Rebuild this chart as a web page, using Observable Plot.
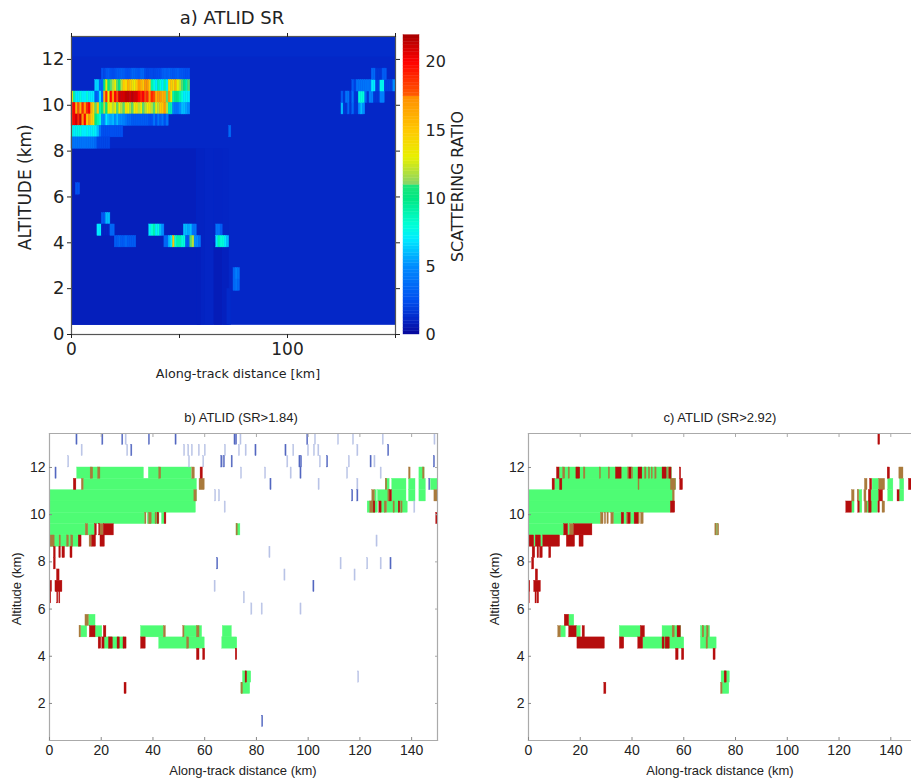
<!DOCTYPE html>
<html>
<head>
<meta charset="utf-8">
<script src="https://cdn.jsdelivr.net/npm/d3@7"></script>
<script src="https://cdn.jsdelivr.net/npm/@observablehq/plot@0.6"></script>
<style>
html,body{margin:0;padding:0;background:#fff;width:911px;height:780px;overflow:hidden}
#page{position:relative;width:911px;height:780px;overflow:hidden}
#page svg{position:absolute;display:block;background:transparent;overflow:hidden}
.ttl{position:absolute;text-align:center;color:#222;white-space:nowrap}
</style>
</head>
<body>
<div id="page"></div>
<script>
// ---------- shared ticks ----------
const kmTicksA = [0, 50, 100, 150];
const kmLabelsA = [0, 100];
const altTicksA = [0, 2, 4, 6, 8, 10, 12];
const srTicks = [0, 5, 10, 15, 20];
const kmTicks = [0, 20, 40, 60, 80, 100, 120, 140];
const altTicks = [2, 4, 6, 8, 10, 12];

// ---------- colour bar ----------
const srStops  = [0, 1, 2.5, 5, 7, 8, 10, 10.95, 11.05, 13, 15, 17.4, 17.6, 20, 22];
const srColors = ["#07079a", "#0424c4", "#0050f0", "#008cff", "#00ecff", "#00ffd8", "#00e882", "#1ee67a",
                  "#88d468", "#e8f000", "#ffc800", "#ff9000", "#ff5a00", "#ff0000", "#a80000"];
const srBarValues = d3.range(0, 22, 0.25);

// ---------- panel a: scattering ratio background regions [km1, km2, alt1, alt2, SR] ----------
const srBackground = [
  [0, 150, 0.4, 13, 1.1], [0, 150, 12.1, 13, 1.25],
  [0, 58, 0.4, 8.1, 0.82], [58, 62, 0.4, 8.1, 0.95], [62, 66, 0.4, 8.1, 1.05],
  [66, 70, 0.4, 4, 0.72], [66, 70, 4, 8.1, 1], [70, 73, 0.4, 4, 0.85], [70, 73, 4, 8.1, 1.05],
  [58, 60, 0.4, 3.8, 0.82], [72, 74, 0.4, 2, 1.2]
];
// ---------- panel a: cloud rows [base altitude, first km, SR per 1-km column] ----------
const srRow111 = [11.1, 14, [2.6,2.2,2.8,3,2.5,2.4,2.6,3,3,3.2,3,2.6,2.5,2.7,3.4,3.3,3,2.8,3.4,3.4,2.4,2.2,2.3,2.3,2.2,2.3,2.4,2.4,3,3.2,3,3.3,3,2.8,3,3.2,2.8,2.8,2.6,2.5,2.6]];
const srRow106 = [10.6, 11, [6.5,6.5,3.5,3.5,10,13,10,11,12,13,11,10,12,15,14,16,15,14,13,15,17,16,15,17,17,15,9,8,7,9,8,7,9,7,14,15,14,16,13,12,11,10,9,11]];
const srRow101 = [10.1, 0, [13,9,7,7,8,7,7,8,7,7,7,3,3.5,7,3.5,16,19,13,20,17,20,18,21,21,21,21.5,21.5,21,21.5,21,21,20,19,20,18,19,17,19,18,16,17,17,16,16.5,11,17,13,9,10,10,9,8,7,7.5,7]];
const srRow96  = [9.6, 0, [19,20,16,18,16,19,17,19,20,16,14,11,15,9,10,12,10,13,13,12,13,11,13,12,11,14,13,12,11,13,14,12,13,11,12,13,14,12,11,13,12,15,15,17,12,9,9,4.5,4,4,5,6,6,5.5,5]];
const srRow91  = [9.1, 0, [19,20,21,19,21,17,20,15,17,15,14,10,9,8,5,5,7,6,5.5,6,5,6,5,5,4.5,4,3.5,3.5,3,3,3,3,3,3,3,3,2.5,2.5,4,2.5,4,3,4,2.5,4]];
const srRow86  = [8.6, 0, [8,7,7.5,7.5,8,7,7,7.5,7,7,7.5,7,6,4,2.5,2.5,2.5,2.5,2.5,2.5,2.5,2.5,2.5,2.5]];
const srRow81  = [8.1, 0, [4,4,4,4,4,4,4,4,4,4,4,3.5,2.2,2.2,2.2,2.2,2.2,2.2]];
const srRow86b = [8.6, 73, [3.6]];
const srRow61  = [6.1, 2, [2.6,2.6]];
const srRow48  = [4.8, 14, [3,3,6,6]];
const srRow43a = [4.3, 12, [7,7,1,1,1,1,3.5,3.5]];
const srRow43b = [4.3, 36, [7,8,9,7,8,6,5]];
const srRow43c = [4.3, 52, [6,6,5.5,6,4,4]];
const srRow43d = [4.3, 67, [4,4,3]];
const srRow38a = [3.8, 20, [3,3,3.5,3,3,3.5,3,3,3,3]];
const srRow38b = [3.8, 43, [3.5,3.5,6,7,15,8,9,9,8,8,3,3,11,12,5,5,4]];
const srRow38c = [3.8, 67, [7,9,8,8,7,6]];
const srRow24  = [2.4, 75, [3.5,4.5,4]];
const srRow19  = [1.9, 75, [3.5,4,3.5]];
const srRow96r  = [9.6, 125, [6,1.6,1.6,3.5,1.6,3.5,1.6,1.6,5,6,5]];
const srRow101r = [10.1, 125, [3,1.6,4,4,1.6,4,1.6,1.6,8,8,8,3.5,1.6,4.5,4.5,1.6,1.6,1.6,4.5,4.5]];
const srRow106r = [10.6, 130, [3,2,4,4,4,4,4,4,4,7,7,2,2,7.5,7.5,2,2,2,2,5]];
const srRow111r = [11.1, 139, [3.5,3.5,1.6,1.6,1.6,3,3]];
const srRows = [srRow111, srRow106, srRow101, srRow96, srRow91, srRow86, srRow81, srRow86b, srRow61, srRow48,
  srRow43a, srRow43b, srRow43c, srRow43d, srRow38a, srRow38b, srRow38c, srRow24, srRow19,
  srRow96r, srRow101r, srRow106r, srRow111r];

// ---------- panel b: detections [base altitude, km1, km2] / [base altitude, km] ----------
const bGreen = [
  [11.52,10.7,36.5],[11.52,38.4,55],[11.04,13.2,57],[10.56,0,56.9],[10.08,0,56.6],[9.6,0,37],[9.6,38,42.5],[9.6,43.5,44.5],
  [9.12,0,14],[9.12,15,17.6],[8.64,0,12],
  [5.28,15.2,17.8],[4.8,12.2,14.6],[4.8,17.8,20.4],[4.8,35.4,44.2],[4.8,52.2,59],[4.8,67,70.5],
  [4.32,21.3,29],[4.32,42.4,60],[4.32,66.8,72.6],
  [2.88,74.8,78],[2.4,74.2,77.6],[9.12,72.3,73.8],
  [11.04,130,131.5],[11.04,132.5,138],[11.04,139,141.5],[11.04,143,145.5],[11.04,147.5,150],
  [10.56,125.8,126.5],[10.56,127,132],[10.56,132.5,138],[10.56,139,141.5],[10.56,143,145.5],
  [10.08,123,127],[10.08,128,130],[10.08,130.5,138.5],[11.52,143,145]
];
const bBrown = [
  [11.52,15.9,16.9],[11.52,18.8,19.7],[11.52,42.4,43.2],[11.52,55.2,56.2],[11.04,12.5,13.2],[11.04,58,60],[10.56,56,57],
  [9.6,37,37.5],[9.6,38.5,39.5],[9.6,41,41.5],[9.12,14,15],[9.12,19.5,21],[8.64,0.4,2],[8.64,3.9,4.4],[8.64,6.8,7.5],[8.64,8.4,9.2],
  [8.64,15.5,16.5],[5.28,13.9,15.2],[4.8,11.6,12.2],[4.8,44.2,45],[4.8,51.7,52.2],[4.8,57,58],[4.32,53.2,54],
  [11.52,139,139.6],[11.52,144.4,145],[11.04,130,130.6],[10.56,124.8,125.8],[10.56,131,131.6],[10.56,148.8,150],
  [10.08,124,125.2],[10.08,129.6,130.5],[10.08,133,133.5],[10.08,136,136.5],[9.12,72.3,72.8],[2.4,74.2,74.8]
];
const bRed = [
  [11.52,58.4,59.3],[11.04,9.4,10.4],[9.6,41.8,42.4],[9.6,44.5,45.2],[9.12,17.6,18.3],[9.12,19.2,19.6],[9.12,21,24.9],[8.64,11.3,12.4],
  [8.64,16.5,18],[8.64,19.7,21.4],[8.16,1.7,2.4],[8.16,3.8,4.4],[8.16,5,6],[8.16,8.1,8.9],[7.68,1.7,2.4],[7.2,2.9,3.9],
  [6.72,0,1],[6.72,2.3,5],[6.24,0,0.7],[6.24,3,3.4],[6.24,3.8,4.2],
  [4.8,15.6,17.8],[4.8,21,22],[4.32,19,20],[4.32,20.4,21.3],[4.32,23,24.5],[4.32,26.3,27.2],[4.32,28.6,29.8],[4.32,35.4,37.2],
  [3.84,57,58],[3.84,59.4,60.2],[3.84,72,72.6],[2.4,29,29.8],[2.88,75.8,76.4],
  [10.56,131.6,132.4],[10.08,125.3,126],[10.08,127.5,128.4],[10.08,135,135.6],[9.6,149.5,150]
];
const bBlue = [
  [12.96,10.4],[12.96,20.4],[12.96,28.1],[12.96,38.4],[12.96,48.7],[12.96,71.5],[12.96,72.1],[12.96,99.6],
  [12.48,31.6],[12.48,79.6],[12.48,91.2],[12.48,130.9],[12,66.4],[12,67.4],[12,70.4],[12,96.6],[12,97.2],[12,107.3],[12,124.1],[12,148.6],
  [11.52,2.3],[11.52,97],[11.04,85.4],[11.04,146.8],[10.56,117],[10.56,119],[7.68,64.8],[7.68,131.8],[6.72,102],[1,82.2]
];
const bLight = [
  [12.96,29.4],[12.96,73.8],[12.96,102.6],[12.96,111.5],[12.96,117.3],[12.96,128.8],[12.96,148.8],
  [12.48,12.4],[12.48,30],[12.48,52],[12.48,53.6],[12.48,55],[12.48,57.7],[12.48,60],[12.48,67.8],[12.48,73.2],[12.48,75.8],[12.48,94.2],[12.48,99.9],[12.48,102.2],[12.48,103.9],[12.48,119],
  [12,7.2],[12,53.9],[12,59.4],[12,66.7],[12,91.9],[12,104.5],[12,115.7],[12,125.6],
  [11.52,74],[11.52,83.3],[11.52,93.2],[11.52,115],[11.52,128],[11.04,104],[11.04,119],[10.56,64],[10.56,65.5],[10.08,67.7],[10.08,141],
  [8.64,126.4],[8.16,85],[7.68,112.5],[7.68,122.8],[7.68,128],[7.2,90.8],[7.2,117.9],[6.72,63.8],[6.24,75.1],[5.76,78],[5.76,82],[5.76,97],[2.88,119.3]
];

// ---------- panel c ----------
const cGreen = [
  [11.52,12,55.4],[11.04,10.2,55],[11.04,13,57],[10.56,0,56],[10.08,0,55],[9.6,0,28],[9.6,33,36],[9.6,37,38],[9.6,39.5,41],[9.12,0,13.8],[9.12,15.3,16],[8.64,2.2,2.8],[8.64,4.8,5.7],
  [5.28,15.7,17.7],[4.8,12.5,14.4],[4.8,18.6,20.2],[4.8,35.3,43.4],[4.8,51.8,59],[4.8,66.6,70.2],[4.32,44.3,60.2],[4.32,66.6,72.7],
  [2.88,74.6,77.8],[2.4,75,77.6],[9.12,72.8,73.2],
  [11.04,133,135.5],[11.04,139,141],[11.04,143.6,145.2],[10.56,127.8,129],[10.56,132.5,135.5],[10.56,139,141],[10.56,143.4,145.2],[10.08,125,126],[10.08,128,129],[10.08,131,135]
];
const cBrown = [
  [11.52,13.4,14.2],[11.52,15.5,16],[11.52,21.4,22],[11.52,27.6,28],[11.52,31,31.5],[11.52,38.5,39],[11.52,40,40.4],[11.52,45,45.6],[11.52,46.5,47],[11.52,47.6,48],[11.52,49,49.5],[11.52,54,54.5],
  [11.04,42.5,42.9],[11.04,55,57],[10.56,55.8,56.5],[9.6,28,29],[9.6,29.5,30],[9.6,30.5,31],[9.6,32,33],[9.6,38,38.5],[9.6,42.5,43],[9.6,43.5,44.5],[9.12,16,17.7],
  [4.8,11.5,12.5],[4.8,55.7,56.5],[4.8,67.3,67.9],[4.8,69,69.6],[4.32,68.8,69.4],
  [11.52,143.3,144.9],[11.04,130,131],[11.04,135.5,137.8],[10.56,125,126],[10.56,127.2,127.8],[10.56,129.8,130.6],[10.08,130,131],[10.08,136.8,137.8],[9.12,72.2,72.8],[9.12,73.2,73.7],[2.4,74.4,75]
];
const cRed = [
  [12.96,135.2,135.9],
  [11.52,11,12],[11.52,18.5,20],[11.52,33.8,36],[11.52,39,39.8],[11.52,42.5,44],[11.52,51.8,53.4],[11.52,54.5,55.3],[11.52,58.5,59],
  [11.04,9.3,10.2],[11.04,12.2,13.1],[11.04,58.6,59.7],[10.08,55,56.7],[9.6,36,37],[9.6,38.5,39.5],[9.6,41,42.5],
  [9.12,13.8,15.3],[9.12,17.7,24.7],[8.64,0,2.2],[8.64,2.8,4.8],[8.64,5.7,12.2],[8.64,14.8,18],[8.64,19.7,21.3],
  [8.16,1.6,2.6],[8.16,3.5,4.1],[8.16,4.5,5.5],[8.16,8,8.8],[7.68,1.4,2.2],[7.2,2.8,3.7],[6.72,0,0.7],[6.72,2.2,4.8],[6.24,0,0.5],[6.24,2.7,3.2],[6.24,3.5,4.1],
  [5.28,14,15.7],[4.8,15.7,18.6],[4.8,20.9,21.8],[4.8,43.4,45],[4.8,57.6,58.9],[4.32,18.9,29.5],[4.32,35.3,37],[4.32,42.4,44.3],[4.32,51.8,52.6],[4.32,53,54.6],
  [3.84,57,58],[3.84,59.3,60.2],[3.84,71.5,72.3],[2.88,75.8,76.6],[2.4,29.3,30.1],
  [11.52,138.8,139.7],[11.04,132,132.8],[11.04,147,148],[10.56,131.5,132.5],[10.56,135.5,137],[10.56,142.6,143.4],[10.08,122.8,125],[10.08,127.4,128],[10.08,131.6,132.6],[10.08,135.2,135.8]
];
const detectKinds  = ["layer", "faint", "dark", "mixed", "cloud"];
const detectColors = ["#4efc74", "#b9c3e6", "#5468c0", "#a97a3c", "#b50d0d"];

// ---------- tables built from the arrays ----------
const srBgCells = srBackground.map(([x1,x2,y1,y2,sr]) => ({x1,x2,y1,y2,sr}));
const srCells = srRows.flatMap(([alt,start,vals]) => vals.map((sr,i) => ({x1:start+i,x2:start+i+1,y1:alt,y2:alt+0.5,sr})));
const spans = (list,cat) => list.map(([alt,x1,x2]) => ({alt,x1,x2,cat}));
const hairs = (list,cat) => list.map(([alt,km]) => ({alt,x1:km,x2:km+0.45,cat}));
const bData = [...spans(bGreen,"layer"),...hairs(bLight,"faint"),...hairs(bBlue,"dark"),...spans(bBrown,"mixed"),...spans(bRed,"cloud")];
const cData = [...spans(cGreen,"layer"),...spans(cBrown,"mixed"),...spans(cRed,"cloud")];

const page = document.getElementById("page");
// Only the last rect layer of a plot is softened, so the field's outer edges stay sharp.
function place(svg,left,top,blur){
  svg.style.left = left+"px"; svg.style.top = top+"px";
  const layers = svg.querySelectorAll('g[aria-label="rect"]');
  if (layers.length) layers[layers.length-1].style.filter = `blur(${blur}px)`;
  page.appendChild(svg);
}
function title(text,cx,cy,size,font){
  const d = document.createElement("div");
  d.className = "ttl"; d.textContent = text;
  d.style.cssText = `left:${cx-150}px;width:300px;top:${cy-size*0.6}px;font:${size}px/1.2 ${font}`;
  page.appendChild(d);
}
const color = {type:"linear",domain:srStops,range:srColors,interpolate:"rgb",clamp:true};

// ---------- panel a ----------
place(Plot.plot({
  width:400,height:385,marginLeft:71,marginRight:5,marginTop:36,marginBottom:51,
  style:{fontFamily:"DejaVu Sans",background:"transparent",color:"#222"},
  x:{domain:[0,150]},y:{domain:[0,13]},color,
  marks:[
    Plot.rect(srBgCells,{x1:"x1",x2:"x2",y1:"y1",y2:"y2",fill:"sr"}),
    Plot.rect(srCells,{x1:"x1",x2:"x2",y1:"y1",y2:"y2",fill:"sr",stroke:"sr",strokeWidth:0.4}),
    Plot.frame({stroke:"#555",strokeWidth:1.2}),
    Plot.axisX({anchor:"bottom",ticks:kmTicksA,tickSize:4,tickPadding:4,fontSize:17,
      tickFormat:d=>kmLabelsA.includes(d)?String(d):"",label:null}),
    Plot.axisX({anchor:"top",ticks:kmTicksA,tickSize:4,tickFormat:()=>"",label:null}),
    Plot.axisY({anchor:"left",ticks:altTicksA,tickSize:4,tickPadding:3,fontSize:18,label:null}),
    Plot.axisY({anchor:"right",ticks:altTicksA,tickSize:4,tickFormat:()=>"",label:null})
  ]
}),0,0,0.7);

// ---------- colour bar ----------
place(Plot.plot({
  width:85,height:385,marginLeft:8,marginRight:61,marginTop:36,marginBottom:51,
  style:{fontFamily:"DejaVu Sans",background:"transparent",color:"#222"},
  x:{axis:null,domain:[0,1]},y:{domain:[0,21.9]},color,
  marks:[
    Plot.rect(srBarValues,{x1:()=>0,x2:()=>1,y1:d=>d,y2:d=>d+0.25,fill:d=>d+0.125,stroke:d=>d+0.125,strokeWidth:0.4}),
    Plot.axisY({anchor:"right",ticks:srTicks,tickSize:0,tickPadding:6,fontSize:16,label:null})
  ]
}),395,0,0.3);

// ---------- panels b and c ----------
function lowerPanel(data,maxKm,mRight,width,frames){
  return Plot.plot({
    width,height:380,marginLeft:49,marginRight:mRight,marginTop:33,marginBottom:40,
    style:{fontFamily:"Liberation Sans",background:"transparent",color:"#222"},
    x:{domain:[0,maxKm]},y:{domain:[0.43,13.44]},
    color:{type:"ordinal",domain:detectKinds,range:detectColors},
    marks:[
      Plot.rect(data,{x1:"x1",x2:"x2",y1:"alt",y2:d=>d.alt+0.48,fill:"cat",stroke:"cat",strokeWidth:0.35,clip:true}),
      ...frames.map(anchor=>Plot.frame({anchor,stroke:"#aaa",strokeWidth:1.2})),
      Plot.axisX({anchor:"bottom",ticks:kmTicks,tickSize:-3,tickPadding:8,fontSize:14,stroke:"#888",label:null}),
      Plot.axisX({anchor:"top",ticks:kmTicks,tickSize:-3,tickFormat:()=>"",stroke:"#aaa",label:null}),
      Plot.axisY({anchor:"left",ticks:altTicks,tickSize:-3,tickPadding:7,fontSize:14,stroke:"#888",label:null}),
      ...(frames.includes("right")?[Plot.axisY({anchor:"right",ticks:altTicks,tickSize:-3,tickFormat:()=>"",stroke:"#aaa",label:null})]:[])
    ]
  });
}
place(lowerPanel(bData,150,8,445,["left","bottom","top","right"]),0,400,0.4);
place(lowerPanel(cData,148,0,432,["left","bottom","top"]),479,400,0.4);

// ---------- titles and axis names ----------
const dv = '"DejaVu Sans",sans-serif', ls = '"Liberation Sans",sans-serif';
title("a) ATLID SR",232,18,18,dv);
title("Along-track distance [km]",238,374,12.7,dv);
title("b) ATLID (SR>1.84)",241,418,13,ls);
title("Along-track distance (km)",243,771,13,ls);
title("c) ATLID (SR>2.92)",720,418,13,ls);
title("Along-track distance (km)",720,771,13,ls);
function vtitle(text,cx,cy,size,font){
  const d = document.createElement("div");
  d.className = "ttl"; d.textContent = text;
  d.style.cssText = `left:${cx-150}px;width:300px;top:${cy-size*0.6}px;font:${size}px/1.2 ${font};transform:rotate(-90deg)`;
  page.appendChild(d);
}
vtitle("ALTITUDE (km)",25,187,17,dv);
vtitle("SCATTERING RATIO",458,186,15.8,dv);
vtitle("Altitude (km)",17,589,13,ls);
vtitle("Altitude (km)",495,589,13,ls);
</script>
</body>
</html>
